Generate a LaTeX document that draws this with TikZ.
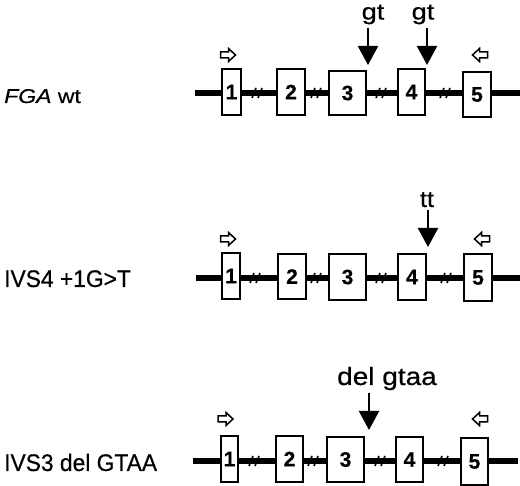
\documentclass[tikz,border=0pt]{standalone}
\usepackage{fontspec}
\setmainfont{Liberation Sans}[FakeBold=0.5]
\usetikzlibrary{arrows.meta}
\tikzset{
  x=1pt,y=-1pt,
  exon/.style={draw,line width=1.7pt,fill=white,inner sep=0pt,font=\fontsize{21}{21}\selectfont\bfseries},
  intron/.style={line width=5.5pt},
  mut/.style={line width=2.2pt,-{Triangle[width=20pt,length=19pt]}},
  toplabel/.style={inner sep=0pt,anchor=base},
  sidelabel/.style={inner sep=0pt,anchor=base west},
  tick/.style={line width=1.6pt},
  primer/.style={draw,line width=1.5pt,fill=white,line join=miter},
}
\newcommand{\brk}[2]{%
  \draw[tick] (#1-5,#2+5) -- (#1-1,#2-5);
  \draw[tick] (#1+1,#2+5) -- (#1+5,#2-5);}
\newcommand{\primR}[2]{%
  \draw[primer] (#1-7.5,#2-3) -- (#1+0.5,#2-3) -- (#1+0.5,#2-6.5) -- (#1+7.5,#2) -- (#1+0.5,#2+6.5) -- (#1+0.5,#2+3) -- (#1-7.5,#2+3) -- cycle;}
\newcommand{\primL}[2]{%
  \draw[primer] (#1+7.5,#2-3) -- (#1-0.5,#2-3) -- (#1-0.5,#2-6.5) -- (#1-7.5,#2) -- (#1-0.5,#2+6.5) -- (#1-0.5,#2+3) -- (#1+7.5,#2+3) -- cycle;}
\begin{document}
\begin{tikzpicture}
\path[use as bounding box] (0,0) rectangle (520,486);

% ---------- Row 1: FGA wt ----------
\node[sidelabel,font=\fontsize{20}{20}\selectfont] (lab1) at (4,103) {\scalebox{1.15}[1]{\itshape FGA\upshape{} wt}};
\coordinate (l1s) at (195,93);
\coordinate (l1e) at (520,93);
\draw[intron] (l1s) -- (l1e);
\brk{257}{93}\brk{316}{93}\brk{381}{93}\brk{445}{93}
\node[exon,minimum width=19pt,minimum height=46pt] (r1e1) at (231.5,92) {1};
\node[exon,minimum width=28pt,minimum height=46pt] (r1e2) at (291,92) {2};
\node[exon,minimum width=37pt,minimum height=44pt] (r1e3) at (347.5,93) {3};
\node[exon,minimum width=27pt,minimum height=46pt] (r1e4) at (411.5,92) {4};
\node[exon,minimum width=28pt,minimum height=45pt] (r1e5) at (477,94.5) {5};
\primR{228}{55}\primL{480}{55}
\node[toplabel,font=\fontsize{23}{23}\selectfont] (gt1) at (373,19.5) {\scalebox{1.18}[1]{gt}};
\node[toplabel,font=\fontsize{23}{23}\selectfont] (gt2) at (423,19.5) {\scalebox{1.18}[1]{gt}};
\coordinate (a1s) at (368,28); \coordinate (a1t) at (368,65);
\coordinate (a2s) at (427,28); \coordinate (a2t) at (427,65);
\draw[mut] (a1s) -- (a1t);
\draw[mut] (a2s) -- (a2t);

% ---------- Row 2: IVS4 +1G>T ----------
\node[sidelabel,font=\fontsize{24}{24}\selectfont] (lab2) at (4,287) {\scalebox{0.95}[1]{IVS4 +1G>T}};
\coordinate (l2s) at (196,278);
\coordinate (l2e) at (520,278);
\draw[intron] (l2s) -- (l2e);
\brk{255}{278}\brk{316}{278}\brk{381}{278}\brk{446}{278}
\node[exon,minimum width=18pt,minimum height=46pt] (r2e1) at (231,276) {1};
\node[exon,minimum width=28pt,minimum height=45pt] (r2e2) at (292,276.5) {2};
\node[exon,minimum width=37pt,minimum height=46pt] (r2e3) at (347.5,277) {3};
\node[exon,minimum width=28pt,minimum height=46pt] (r2e4) at (412,277) {4};
\node[exon,minimum width=28pt,minimum height=47pt] (r2e5) at (478,277.5) {5};
\primR{228}{239}\primL{482}{239}
\node[toplabel,font=\fontsize{23}{23}\selectfont] (tt) at (427,207) {\scalebox{1.1}[1]{tt}};
\coordinate (a3s) at (428,210); \coordinate (a3t) at (428,247);
\draw[mut] (a3s) -- (a3t);

% ---------- Row 3: IVS3 del GTAA ----------
\node[sidelabel,font=\fontsize{24}{24}\selectfont] (lab3) at (4,471) {\scalebox{0.95}[1]{IVS3 del GTAA}};
\coordinate (l3s) at (193,461);
\coordinate (l3e) at (518,461);
\draw[intron] (l3s) -- (l3e);
\brk{254}{461}\brk{313}{461}\brk{380}{461}\brk{443}{461}
\node[exon,minimum width=17pt,minimum height=46pt] (r3e1) at (229.5,459) {1};
\node[exon,minimum width=27pt,minimum height=46pt] (r3e2) at (289.5,459) {2};
\node[exon,minimum width=37pt,minimum height=45pt] (r3e3) at (345.5,459.5) {3};
\node[exon,minimum width=27pt,minimum height=45pt] (r3e4) at (409.5,459.5) {4};
\node[exon,minimum width=27pt,minimum height=47pt] (r3e5) at (474.5,461.5) {5};
\primR{225.5}{419}\primL{480}{419}
\node[toplabel,font=\fontsize{25}{25}\selectfont] (del) at (387,385) {\scalebox{1.12}[1]{del gtaa}};
\coordinate (a4s) at (369,393); \coordinate (a4t) at (369,430);
\draw[mut] (a4s) -- (a4t);
\end{tikzpicture}
\end{document}
